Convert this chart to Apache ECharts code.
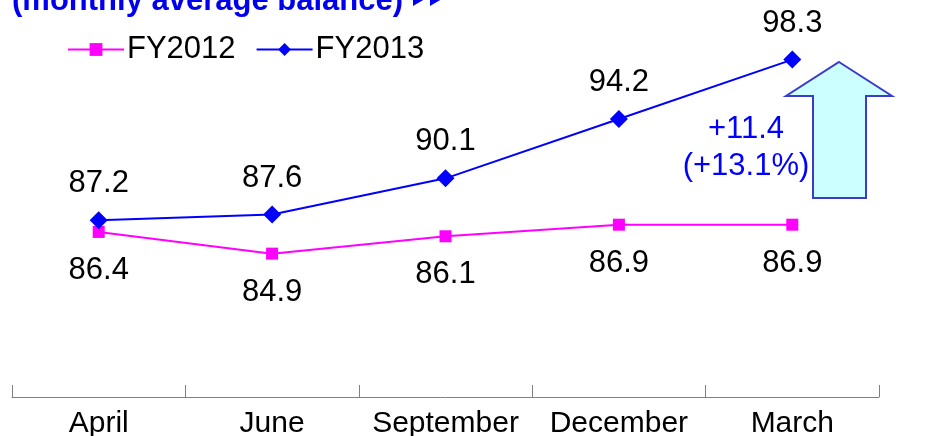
<!DOCTYPE html>
<html style="height: 100%">
<head>
<meta charset="utf-8">
<script src="https://cdn.jsdelivr.net/npm/echarts@6/dist/echarts.min.js"></script>
</head>
<body style="height: 100%; margin: 0; background: #fff">
<div id="container" style="width: 935px; height: 436px"></div>
<script type="text/javascript">
var months = ['April', 'June', 'September', 'December', 'March'];
var fy2012 = [86.4, 84.9, 86.1, 86.9, 86.9];
var fy2013 = [87.2, 87.6, 90.1, 94.2, 98.3];
var diffText = ['+11.4', '(+13.1%)'];

var font = 'Liberation Sans, Arial, sans-serif';
var chart = echarts.init(document.getElementById('container'));

var option = {
    animation: false,
    grid: { left: 12, right: 56, top: 35, bottom: 39, outerBoundsMode: 'none' },
    legend: {
        left: 62, top: 29,
        itemWidth: 56, itemHeight: 16, itemGap: 20,
        textStyle: { fontFamily: font, fontSize: 31, color: '#000', padding: [0, 0, 0, -2] },
        data: ['FY2012', 'FY2013']
    },
    xAxis: {
        type: 'category',
        data: months,
        boundaryGap: true,
        axisLine: { lineStyle: { color: '#808080', width: 1 } },
        axisTick: { show: true, inside: true, length: 12, lineStyle: { color: '#808080' } },
        axisLabel: { interval: 0, fontFamily: font, fontSize: 30, color: '#000', margin: 12 }
    },
    yAxis: {
        type: 'value', min: 75, max: 100, show: false, splitLine: { show: false }
    },
    series: [
        {
            name: 'FY2012', type: 'line', data: fy2012,
            symbol: 'rect', symbolSize: 12,
            itemStyle: { color: '#ff00ff' },
            lineStyle: { color: '#ff00ff', width: 2 },
            label: { show: true, position: 'bottom', distance: 17, fontFamily: font, fontSize: 31, color: '#000' }
        },
        {
            name: 'FY2013', type: 'line', data: fy2013,
            symbol: 'diamond', symbolSize: 18,
            itemStyle: { color: '#0000ff' },
            lineStyle: { color: '#0000ff', width: 2 },
            label: { show: true, position: 'top', distance: 12, fontFamily: font, fontSize: 31, color: '#000' }
        }
    ],
    graphic: [
        {
            type: 'text', x: 12, y: -14,
            style: { text: '(monthly average balance)', font: 'bold 31px ' + font, fill: '#0000ee' }
        },
        {
            type: 'polygon',
            shape: { points: [[413, -14], [430, -4], [413, 6]] },
            style: { fill: '#0000ee' }
        },
        {
            type: 'polygon',
            shape: { points: [[430, -14], [447, -4], [430, 6]] },
            style: { fill: '#0000ee' }
        },
        {
            type: 'polygon',
            shape: { points: [[839, 62], [892, 96], [866, 96], [866, 198], [813, 198], [813, 96], [786, 96]] },
            style: { fill: '#ccffff', stroke: '#3b3bcc', lineWidth: 2 }
        },
        {
            type: 'text', x: 746, y: 129,
            style: { text: diffText[0], font: '31px ' + font, fill: '#0000ff', align: 'center', verticalAlign: 'middle' }
        },
        {
            type: 'text', x: 746, y: 166,
            style: { text: diffText[1], font: '31px ' + font, fill: '#0000ff', align: 'center', verticalAlign: 'middle' }
        }
    ]
};

chart.setOption(option);
</script>
</body>
</html>
